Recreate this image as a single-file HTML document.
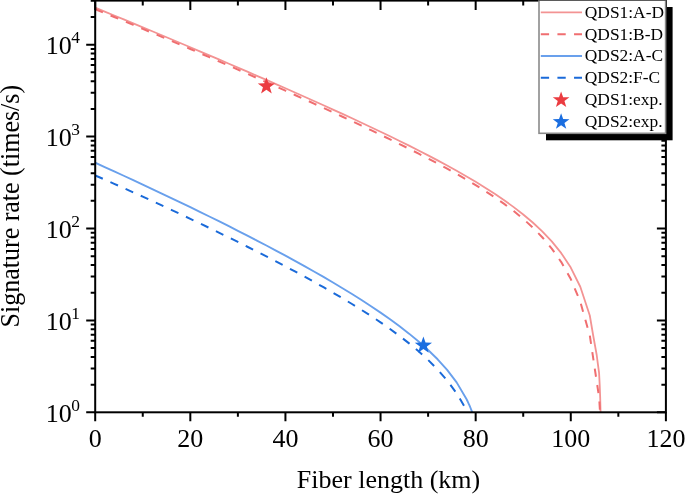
<!DOCTYPE html>
<html><head><meta charset="utf-8"><style>
html,body{margin:0;padding:0;background:#fff;}
body{width:685px;height:494px;overflow:hidden;}
svg{display:block;will-change:transform;}
text{font-family:"Liberation Serif",serif;fill:#000;}
</style></head><body>
<svg width="685" height="494" viewBox="0 0 685 494">
<defs><clipPath id="pa"><rect x="95.2" y="0" width="570.70" height="412.30"/></clipPath></defs>
<g clip-path="url(#pa)" fill="none" stroke-linejoin="round">
<path d="M95.20 7.63 L104.71 11.55 L114.22 15.48 L123.73 19.42 L133.25 23.36 L142.76 27.32 L152.27 31.29 L161.78 35.27 L171.29 39.26 L180.81 43.27 L190.32 47.28 L199.83 51.31 L209.34 55.36 L218.85 59.41 L228.36 63.49 L237.88 67.57 L247.39 71.68 L256.90 75.80 L266.41 79.94 L275.92 84.10 L285.43 88.28 L294.94 92.48 L304.46 96.71 L313.97 100.96 L323.48 105.24 L332.99 109.56 L342.50 113.91 L352.01 118.30 L361.53 122.72 L371.04 127.20 L380.55 131.73 L390.06 136.31 L399.57 140.96 L409.08 145.68 L418.60 150.49 L428.11 155.38 L437.62 160.39 L447.13 165.51 L456.64 170.78 L466.15 176.21 L475.67 181.84 L485.18 187.69 L494.69 193.81 L504.20 200.27 L513.71 207.13 L523.22 214.49 L532.74 222.51 L542.25 231.38 L551.76 241.43 L561.27 253.17 L570.78 267.59 L580.29 286.76 L589.80 315.50 L593.10 335.00 L596.70 355.00 L597.90 364.10 L599.10 373.20 L599.70 385.00 L600.20 398.00 L600.60 414.00" stroke="#f39393" stroke-width="1.8"/>
<path d="M95.20 9.18 L104.71 13.09 L114.22 17.01 L123.73 20.95 L133.25 24.90 L142.76 28.88 L152.27 32.87 L161.78 36.88 L171.29 40.91 L180.81 44.95 L190.32 49.01 L199.83 53.10 L209.34 57.20 L218.85 61.32 L228.36 65.45 L237.88 69.61 L247.39 73.79 L256.90 77.98 L266.41 82.20 L275.92 86.44 L285.43 90.70 L294.94 94.98 L304.46 99.28 L313.97 103.61 L323.48 107.97 L332.99 112.35 L342.50 116.76 L352.01 121.21 L361.53 125.69 L371.04 130.21 L380.55 134.78 L390.06 139.39 L399.57 144.07 L409.08 148.81 L418.60 153.62 L428.11 158.52 L437.62 163.53 L447.13 168.66 L456.64 173.93 L466.15 179.38 L475.67 185.05 L485.18 190.98 L494.69 197.23 L504.20 203.88 L513.71 211.03 L523.22 218.84 L532.74 227.49 L542.25 237.26 L551.76 248.58 L561.27 262.11 L570.78 279.03 L580.29 301.64 L589.81 335.56 L598.20 391.40 L599.30 400.00 L600.10 414.00" stroke="#f06e70" stroke-width="2" stroke-dasharray="8.3 8.32"/>
<path d="M95.20 162.73 L104.71 167.05 L114.22 171.39 L123.73 175.76 L133.25 180.16 L142.76 184.59 L152.27 189.05 L161.78 193.53 L171.29 198.05 L180.81 202.61 L190.32 207.20 L199.83 211.83 L209.34 216.50 L218.85 221.21 L228.36 225.97 L237.88 230.78 L247.39 235.64 L256.90 240.55 L266.41 245.52 L275.92 250.56 L285.43 255.67 L294.94 260.85 L304.46 266.12 L313.97 271.47 L323.48 276.93 L332.99 282.50 L342.50 288.20 L352.01 294.03 L361.53 300.03 L371.04 306.22 L380.55 312.63 L390.06 319.29 L399.57 326.27 L409.08 333.63 L418.60 341.48 L428.11 349.96 L437.62 359.30 L447.13 369.87 L456.64 382.39 L466.15 398.42 L466.80 399.70 L467.44 401.03 L468.08 402.38 L468.72 403.78 L469.36 405.23 L470.00 406.72 L470.64 408.26 L471.28 409.86 L471.92 411.53 L472.56 413.25 L473.20 415.06" stroke="#69a0ec" stroke-width="1.9"/>
<path d="M95.20 175.43 L104.71 179.62 L114.22 183.83 L123.73 188.08 L133.25 192.37 L142.76 196.69 L152.27 201.04 L161.78 205.43 L171.29 209.86 L180.81 214.32 L190.32 218.82 L199.83 223.37 L209.34 227.95 L218.85 232.58 L228.36 237.25 L237.88 241.97 L247.39 246.74 L256.90 251.56 L266.41 256.44 L275.92 261.38 L285.43 266.39 L294.94 271.47 L304.46 276.63 L313.97 281.88 L323.48 287.23 L332.99 292.69 L342.50 298.28 L352.01 304.01 L361.53 309.92 L371.04 316.03 L380.55 322.37 L390.06 328.99 L399.57 335.96 L409.08 343.36 L418.60 351.30 L428.11 359.94 L437.62 369.52 L447.13 380.41 L456.64 393.28 L466.15 409.37 L466.41 409.87 L466.66 410.37 L466.92 410.87 L467.17 411.38 L467.42 411.89 L467.68 412.40 L467.93 412.92 L468.19 413.45 L468.44 413.98 L468.69 414.52 L468.95 415.06" stroke="#1a6ad9" stroke-width="2" stroke-dasharray="8.3 8.32"/>
</g>
<polygon points="266.40,77.30 268.53,83.32 275.03,83.45 269.85,87.30 271.74,93.40 266.40,89.76 261.06,93.40 262.95,87.30 257.77,83.45 264.27,83.32" fill="#eb3c41"/>
<polygon points="423.40,336.60 425.53,342.62 432.03,342.75 426.85,346.60 428.74,352.70 423.40,349.06 418.06,352.70 419.95,346.60 414.77,342.75 421.27,342.62" fill="#1b6ee0"/>
<rect x="95.2" y="0.6" width="570.70" height="411.70" fill="none" stroke="#000" stroke-width="2"/>
<path d="M95.20 412.30 L95.20 421.30 M95.20 0.60 L95.20 9.90 M142.76 412.30 L142.76 416.80 M142.76 0.60 L142.76 5.40 M190.32 412.30 L190.32 421.30 M190.32 0.60 L190.32 9.90 M237.88 412.30 L237.88 416.80 M237.88 0.60 L237.88 5.40 M285.43 412.30 L285.43 421.30 M285.43 0.60 L285.43 9.90 M332.99 412.30 L332.99 416.80 M332.99 0.60 L332.99 5.40 M380.55 412.30 L380.55 421.30 M380.55 0.60 L380.55 9.90 M428.11 412.30 L428.11 416.80 M428.11 0.60 L428.11 5.40 M475.67 412.30 L475.67 421.30 M475.67 0.60 L475.67 9.90 M523.22 412.30 L523.22 416.80 M523.22 0.60 L523.22 5.40 M570.78 412.30 L570.78 421.30 M570.78 0.60 L570.78 9.90 M618.34 412.30 L618.34 416.80 M618.34 0.60 L618.34 5.40 M665.90 412.30 L665.90 421.30 M665.90 0.60 L665.90 9.90 M95.20 412.30 L86.20 412.30 M665.90 412.30 L656.90 412.30 M95.20 384.64 L90.70 384.64 M665.90 384.64 L661.40 384.64 M95.20 368.45 L90.70 368.45 M665.90 368.45 L661.40 368.45 M95.20 356.97 L90.70 356.97 M665.90 356.97 L661.40 356.97 M95.20 348.06 L90.70 348.06 M665.90 348.06 L661.40 348.06 M95.20 340.79 L90.70 340.79 M665.90 340.79 L661.40 340.79 M95.20 334.64 L90.70 334.64 M665.90 334.64 L661.40 334.64 M95.20 329.31 L90.70 329.31 M665.90 329.31 L661.40 329.31 M95.20 324.61 L90.70 324.61 M665.90 324.61 L661.40 324.61 M95.20 320.40 L86.20 320.40 M665.90 320.40 L656.90 320.40 M95.20 292.74 L90.70 292.74 M665.90 292.74 L661.40 292.74 M95.20 276.55 L90.70 276.55 M665.90 276.55 L661.40 276.55 M95.20 265.07 L90.70 265.07 M665.90 265.07 L661.40 265.07 M95.20 256.16 L90.70 256.16 M665.90 256.16 L661.40 256.16 M95.20 248.89 L90.70 248.89 M665.90 248.89 L661.40 248.89 M95.20 242.74 L90.70 242.74 M665.90 242.74 L661.40 242.74 M95.20 237.41 L90.70 237.41 M665.90 237.41 L661.40 237.41 M95.20 232.71 L90.70 232.71 M665.90 232.71 L661.40 232.71 M95.20 228.50 L86.20 228.50 M665.90 228.50 L656.90 228.50 M95.20 200.84 L90.70 200.84 M665.90 200.84 L661.40 200.84 M95.20 184.65 L90.70 184.65 M665.90 184.65 L661.40 184.65 M95.20 173.17 L90.70 173.17 M665.90 173.17 L661.40 173.17 M95.20 164.26 L90.70 164.26 M665.90 164.26 L661.40 164.26 M95.20 156.99 L90.70 156.99 M665.90 156.99 L661.40 156.99 M95.20 150.84 L90.70 150.84 M665.90 150.84 L661.40 150.84 M95.20 145.51 L90.70 145.51 M665.90 145.51 L661.40 145.51 M95.20 140.81 L90.70 140.81 M665.90 140.81 L661.40 140.81 M95.20 136.60 L86.20 136.60 M665.90 136.60 L656.90 136.60 M95.20 108.94 L90.70 108.94 M665.90 108.94 L661.40 108.94 M95.20 92.75 L90.70 92.75 M665.90 92.75 L661.40 92.75 M95.20 81.27 L90.70 81.27 M665.90 81.27 L661.40 81.27 M95.20 72.36 L90.70 72.36 M665.90 72.36 L661.40 72.36 M95.20 65.09 L90.70 65.09 M665.90 65.09 L661.40 65.09 M95.20 58.94 L90.70 58.94 M665.90 58.94 L661.40 58.94 M95.20 53.61 L90.70 53.61 M665.90 53.61 L661.40 53.61 M95.20 48.91 L90.70 48.91 M665.90 48.91 L661.40 48.91 M95.20 44.70 L86.20 44.70 M665.90 44.70 L656.90 44.70 M95.20 17.04 L90.70 17.04 M665.90 17.04 L661.40 17.04 M95.20 0.85 L90.70 0.85 M665.90 0.85 L661.40 0.85" stroke="#000" stroke-width="2" fill="none"/>
<rect x="546" y="7" width="126.6" height="133.3" fill="#000"/><rect x="539" y="0" width="126.6" height="133.3" fill="#fff" stroke="#8a8a8a" stroke-width="1.6"/><rect x="538.2" y="0" width="128" height="0.8" fill="#4a4a4a"/><line x1="540.8" x2="582" y1="12.30" y2="12.30" stroke="#f39393" stroke-width="1.8"/><line x1="540.8" x2="582" y1="34.15" y2="34.15" stroke="#f06e70" stroke-width="2" stroke-dasharray="8.3 8.32"/><line x1="540.8" x2="582" y1="56.00" y2="56.00" stroke="#69a0ec" stroke-width="1.8"/><line x1="540.8" x2="582" y1="77.85" y2="77.85" stroke="#1a6ad9" stroke-width="2" stroke-dasharray="8.3 8.32"/><polygon points="561.10,91.40 563.16,97.22 569.44,97.34 564.44,101.06 566.26,106.96 561.10,103.44 555.94,106.96 557.76,101.06 552.76,97.34 559.04,97.22" fill="#eb3c41"/><polygon points="561.10,113.25 563.16,119.07 569.44,119.19 564.44,122.91 566.26,128.81 561.10,125.29 555.94,128.81 557.76,122.91 552.76,119.19 559.04,119.07" fill="#1b6ee0"/><text x="584.8" y="17.70" font-size="17.4">QDS1:A-D</text><text x="584.8" y="39.55" font-size="17.4">QDS1:B-D</text><text x="584.8" y="61.40" font-size="17.4">QDS2:A-C</text><text x="584.8" y="83.25" font-size="17.4">QDS2:F-C</text><text x="584.8" y="105.10" font-size="17.4">QDS1:exp.</text><text x="584.8" y="126.95" font-size="17.4">QDS2:exp.</text>
<g font-size="26"><text x="95.20" y="447" text-anchor="middle">0</text><text x="190.32" y="447" text-anchor="middle">20</text><text x="285.43" y="447" text-anchor="middle">40</text><text x="380.55" y="447" text-anchor="middle">60</text><text x="475.67" y="447" text-anchor="middle">80</text><text x="570.78" y="447" text-anchor="middle">100</text><text x="665.90" y="447" text-anchor="middle">120</text><text x="45.8" y="421.90">10<tspan dx="-0.6" dy="-11" font-size="17.4">0</tspan></text><text x="45.8" y="330.00">10<tspan dx="-0.6" dy="-11" font-size="17.4">1</tspan></text><text x="45.8" y="238.10">10<tspan dx="-0.6" dy="-11" font-size="17.4">2</tspan></text><text x="45.8" y="146.20">10<tspan dx="-0.6" dy="-11" font-size="17.4">3</tspan></text><text x="45.8" y="54.30">10<tspan dx="-0.6" dy="-11" font-size="17.4">4</tspan></text>
<text x="296.85" y="487.7">Fiber length (km)</text>
<text transform="translate(19.1 327.4) rotate(-90) scale(1 1.05)">Signature rate (times/s)</text>
</g>
</svg>
</body></html>
